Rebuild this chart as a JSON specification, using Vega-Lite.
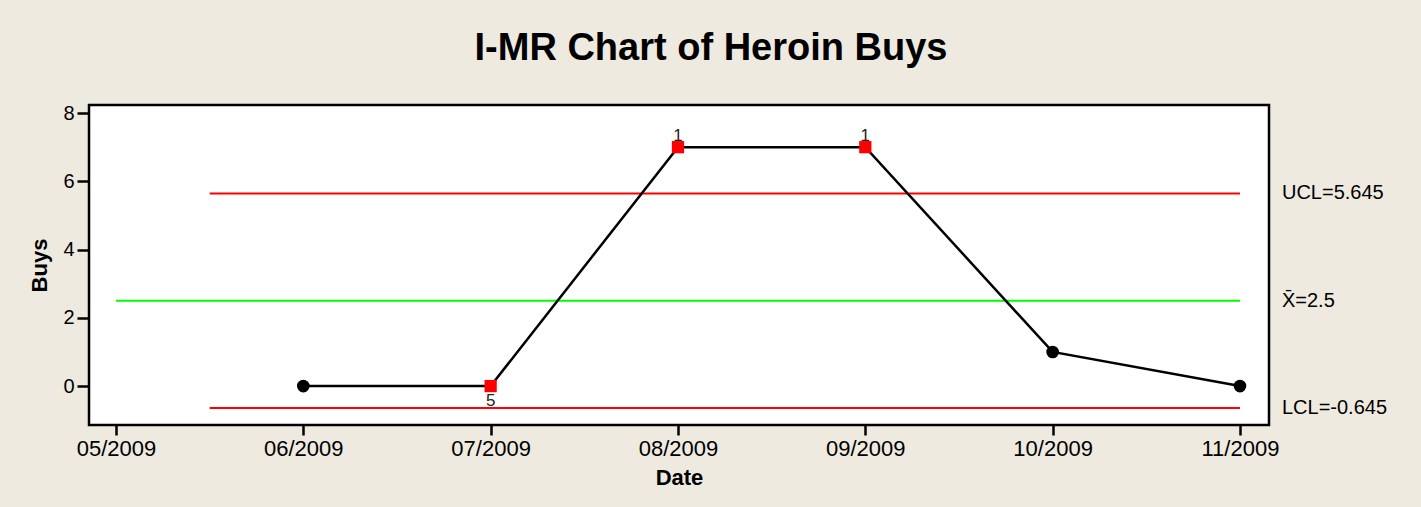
{
  "$schema": "https://vega.github.io/schema/vega-lite/v6.json",
  "width": 1180,
  "height": 320,
  "autosize": {"type": "none"},
  "padding": {"left": 89, "top": 105, "right": 152, "bottom": 82},
  "background": "#EEEAE0",
  "config": {
    "view": {"fill": "white", "stroke": "black", "strokeWidth": 2.5},
    "font": "Liberation Sans"
  },
  "title": {
    "text": "I-MR Chart of Heroin Buys",
    "fontSize": 38,
    "fontWeight": "bold",
    "font": "Liberation Sans",
    "color": "black",
    "anchor": "middle",
    "frame": "group",
    "dx": 32,
    "offset": 5,
    "baseline": "alphabetic"
  },
  "resolve": {"scale": {"color": "independent", "shape": "independent", "size": "independent"}},
  "datasets": {
    "obs": [
      {"t": 1, "Date": "06/2009", "Buys": 0, "Status": "ok", "Test": ""},
      {"t": 2, "Date": "07/2009", "Buys": 0, "Status": "fail", "Test": "5"},
      {"t": 3, "Date": "08/2009", "Buys": 7, "Status": "fail", "Test": "1"},
      {"t": 4, "Date": "09/2009", "Buys": 7, "Status": "fail", "Test": "1"},
      {"t": 5, "Date": "10/2009", "Buys": 1, "Status": "ok", "Test": ""},
      {"t": 6, "Date": "11/2009", "Buys": 0, "Status": "ok", "Test": ""}
    ],
    "limits": [
      {"name": "UCL", "label": "UCL=5.645", "value": 5.645, "start": 0.5, "end": 6},
      {"name": "Mean", "label": "X\u0304=2.5", "value": 2.5, "start": 0, "end": 6},
      {"name": "LCL", "label": "LCL=-0.645", "value": -0.645, "start": 0.5, "end": 6}
    ]
  },
  "layer": [
    {
      "data": {"name": "limits"},
      "mark": {"type": "rule", "strokeWidth": 2},
      "encoding": {
        "x": {
          "field": "start", "type": "quantitative",
          "scale": {"domain": [-0.144, 6.155], "nice": false, "zero": false},
          "axis": {
            "title": "Date",
            "values": [0, 1, 2, 3, 4, 5, 6],
            "labelExpr": "['05/2009','06/2009','07/2009','08/2009','09/2009','10/2009','11/2009'][datum.value]",
            "grid": false, "domain": false,
            "tickSize": 10, "tickWidth": 2.5, "tickColor": "black",
            "labelFontSize": 22, "labelColor": "black", "labelPadding": 3, "labelFlush": false,
            "titleFontSize": 22, "titleFontWeight": "bold", "titleColor": "black", "titlePadding": 8
          }
        },
        "x2": {"field": "end"},
        "y": {
          "field": "value", "type": "quantitative",
          "scale": {"domain": [-1.14, 8.235], "nice": false, "zero": false},
          "axis": {
            "title": "Buys",
            "values": [0, 2, 4, 6, 8],
            "grid": false, "domain": false,
            "tickSize": 12, "tickWidth": 2.5, "tickColor": "black",
            "labelFontSize": 20, "labelColor": "black", "labelPadding": 3,
            "titleFontSize": 22, "titleFontWeight": "bold", "titleColor": "black", "titlePadding": 11
          }
        },
        "color": {
          "field": "name", "type": "nominal",
          "scale": {"domain": ["UCL", "Mean", "LCL"], "range": ["#FF0000", "#00FF00", "#FF0000"]},
          "legend": null
        }
      }
    },
    {
      "data": {"name": "limits"},
      "mark": {"type": "text", "align": "left", "baseline": "middle", "dx": 42, "fontSize": 20, "color": "black"},
      "encoding": {
        "x": {"field": "end", "type": "quantitative"},
        "y": {"field": "value", "type": "quantitative"},
        "text": {"field": "label"}
      }
    },
    {
      "data": {"name": "obs"},
      "mark": {"type": "line", "color": "black", "strokeWidth": 2.5},
      "encoding": {
        "x": {"field": "t", "type": "quantitative"},
        "y": {"field": "Buys", "type": "quantitative"}
      }
    },
    {
      "data": {"name": "obs"},
      "mark": {"type": "point", "filled": true, "opacity": 1},
      "encoding": {
        "x": {"field": "t", "type": "quantitative"},
        "y": {"field": "Buys", "type": "quantitative"},
        "shape": {"field": "Status", "type": "nominal", "scale": {"domain": ["ok", "fail"], "range": ["circle", "square"]}, "legend": null},
        "color": {"field": "Status", "type": "nominal", "scale": {"domain": ["ok", "fail"], "range": ["black", "#FF0000"]}, "legend": null},
        "size": {"field": "Status", "type": "nominal", "scale": {"domain": ["ok", "fail"], "range": [160, 150]}, "legend": null}
      }
    },
    {
      "data": {"name": "obs"},
      "transform": [{"filter": "datum.Test != '' && datum.Buys > 2.5"}],
      "mark": {"type": "text", "baseline": "bottom", "dy": -2, "fontSize": 17, "color": "#222222"},
      "encoding": {
        "x": {"field": "t", "type": "quantitative"},
        "y": {"field": "Buys", "type": "quantitative"},
        "text": {"field": "Test"}
      }
    },
    {
      "data": {"name": "obs"},
      "transform": [{"filter": "datum.Test != '' && datum.Buys <= 2.5"}],
      "mark": {"type": "text", "baseline": "top", "dy": 7, "fontSize": 17, "color": "#222222"},
      "encoding": {
        "x": {"field": "t", "type": "quantitative"},
        "y": {"field": "Buys", "type": "quantitative"},
        "text": {"field": "Test"}
      }
    }
  ]
}
